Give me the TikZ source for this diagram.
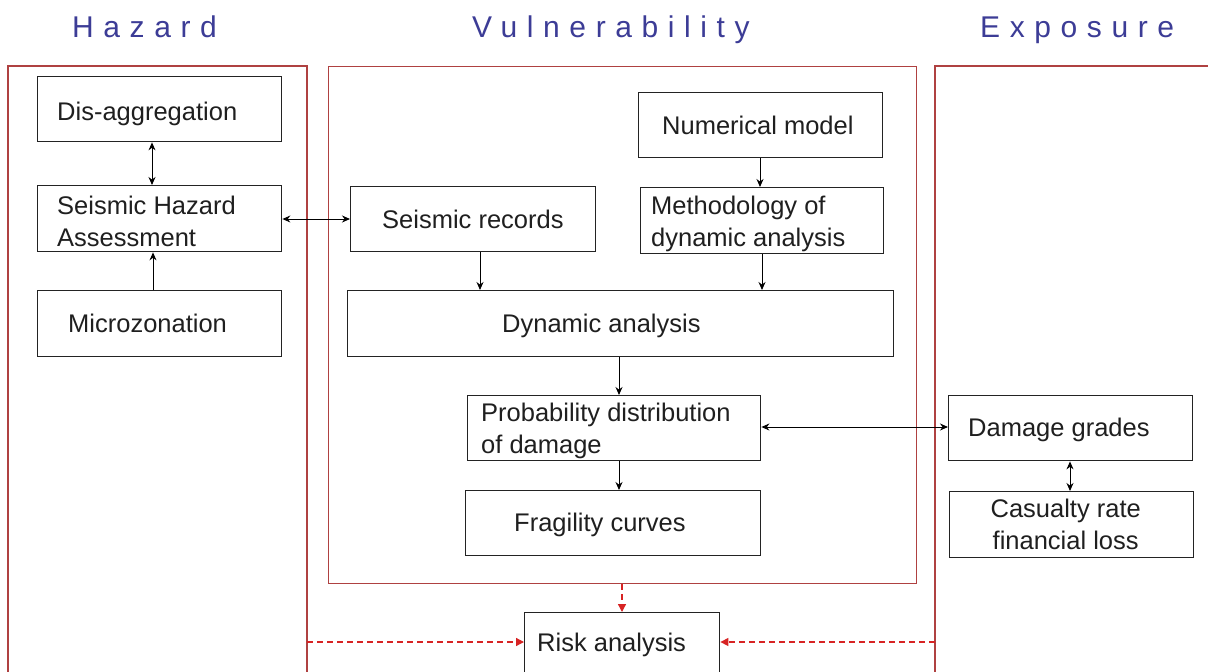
\documentclass[tikz,border=0pt]{standalone}
\usepackage{fontspec}
\setmainfont{Liberation Sans}
\newfontfamily\headfont[LetterSpace=32]{Liberation Sans}
\usetikzlibrary{arrows.meta}
\definecolor{frame}{RGB}{175,65,65}
\definecolor{dashred}{RGB}{215,35,35}
\definecolor{headblue}{RGB}{60,60,150}
\definecolor{boxline}{RGB}{35,35,35}
\begin{document}
\begin{tikzpicture}[x=1pt,y=-1pt,
  box/.style={draw=boxline,line width=1.4pt,rectangle,inner sep=0pt,anchor=north west},
  txt/.style={anchor=west,align=left,inner sep=0pt,font=\fontsize{25.5}{32}\selectfont,text=black!88},
  ctxt/.style={anchor=center,align=center,inner sep=0pt,font=\fontsize{25.5}{32}\selectfont,text=black!88},
  head/.style={anchor=base west,inner sep=0pt,font=\headfont\fontsize{30}{36}\selectfont,text=headblue},
  frm/.style={draw=frame,line width=1.3pt},
  arr/.style={line width=1pt,-{Stealth[length=8pt,width=7pt]}},
  darr/.style={line width=1pt,{Stealth[length=8pt,width=7pt]}-{Stealth[length=8pt,width=7pt]}},
  rarr/.style={draw=dashred,line width=1.3pt,dash pattern=on 6pt off 4pt,-{Triangle[length=8pt,width=8pt]}}
]
\useasboundingbox (0,0) rectangle (1208,672);

% headings
\node[head] (hhaz) at (72,37) {Hazard};
\node[head] (hvul) at (472,37) {Vulnerability};
\node[head] (hexp) at (980,37) {Exposure};

% frames
\draw[frm] (8,680) -- (8,66) -- (307,66) -- (307,680);
\node[draw=frame,line width=1.3pt,rectangle,inner sep=0pt,anchor=north west,minimum width=588pt,minimum height=517pt] (vul) at (328,66) {};
\draw[frm] (1215,66) -- (935,66) -- (935,680);
\coordinate (haze) at (307,642);
\coordinate (expw) at (935,642);

% hazard boxes
\node[box,minimum width=244pt,minimum height=65pt] (dis) at (37,76) {};
\node[txt] (tdis) at ([xshift=20pt,yshift=-5pt]dis.west) {Dis-aggregation};
\node[box,minimum width=244pt,minimum height=66pt] (sha) at (37,185) {};
\node[txt] (tsha) at ([xshift=20pt,yshift=-3pt]sha.west) {Seismic Hazard\\Assessment};
\node[box,minimum width=244pt,minimum height=66pt] (mic) at (37,290) {};
\node[txt] (tmic) at ([xshift=31pt]mic.west) {Microzonation};

% vulnerability boxes
\node[box,minimum width=245pt,minimum height=65pt] (rec) at (350,186) {};
\node[txt] (trec) at ([xshift=32pt]rec.west) {Seismic records};
\node[box,minimum width=244pt,minimum height=65pt] (num) at (638,92) {};
\node[txt] (tnum) at ([xshift=24pt]num.west) {Numerical model};
\node[box,minimum width=243pt,minimum height=66pt] (met) at (640,187) {};
\node[txt] (tmet) at ([xshift=11pt,yshift=-3pt]met.west) {Methodology of\\dynamic analysis};
\node[box,minimum width=546pt,minimum height=66pt] (dyn) at (347,290) {};
\node[txt] (tdyn) at ([xshift=155pt,yshift=-2pt]dyn.west) {Dynamic analysis};
\node[box,minimum width=293pt,minimum height=65pt] (pro) at (467,395) {};
\node[txt] (tpro) at ([xshift=14pt,yshift=-3pt]pro.west) {Probability distribution\\of damage};
\node[box,minimum width=295pt,minimum height=65pt] (fra) at (465,490) {};
\node[txt] (tfra) at ([xshift=49pt,yshift=-2pt]fra.west) {Fragility curves};

% exposure boxes
\node[box,minimum width=244pt,minimum height=65pt] (dam) at (948,395) {};
\node[txt] (tdam) at ([xshift=20pt,yshift=-2pt]dam.west) {Damage grades};
\node[box,minimum width=244pt,minimum height=66pt] (cas) at (949,491) {};
\node[ctxt] (tcas) at ([xshift=-6pt]cas.center) {Casualty rate\\financial loss};

% risk
\node[box,minimum width=195pt,minimum height=70pt] (risk) at (524,612) {};
\node[txt] (trisk) at ([xshift=13pt]risk.west |- 0,645) {Risk analysis};

% connectors
\draw[darr] (dis.south -| 152,0) -- (sha.north -| 152,0);
\draw[arr] (mic.north -| 153,0) -- (sha.south -| 153,0);
\draw[darr] (sha.east |- 0,219) -- (rec.west |- 0,219);
\draw[arr] (num.south -| 760,0) -- (met.north -| 760,0);
\draw[arr] (met.south -| 762,0) -- (dyn.north -| 762,0);
\draw[arr] (rec.south -| 480,0) -- (dyn.north -| 480,0);
\draw[arr] (dyn.south -| 619,0) -- (pro.north -| 619,0);
\draw[arr] (pro.south -| 619,0) -- (fra.north -| 619,0);
\draw[darr] (pro.east |- 0,427) -- (dam.west |- 0,427);
\draw[darr] (dam.south -| 1070,0) -- (cas.north -| 1070,0);

% dashed red
\draw[rarr] (vul.south -| 622,0) -- (risk.north -| 622,0);
\draw[rarr] (haze) -- (risk.west |- haze);
\draw[rarr] (expw) -- (risk.east |- expw);
\end{tikzpicture}
\end{document}
